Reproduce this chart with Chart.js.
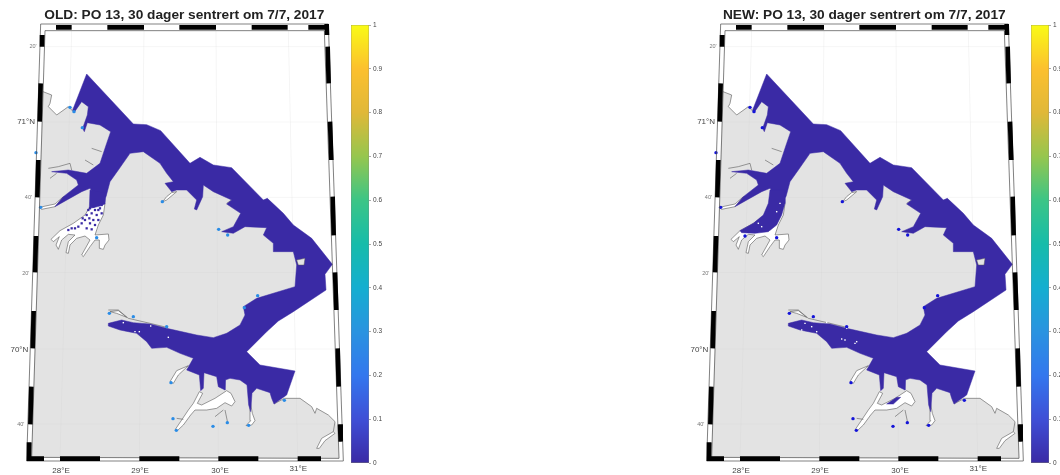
<!DOCTYPE html>
<html><head><meta charset="utf-8">
<script src="https://cdn.jsdelivr.net/npm/chart.js@4"></script>
<style>
html,body{margin:0;padding:0;background:#fff;overflow:hidden;width:1060px;height:475px}
canvas{position:absolute;top:0;filter:blur(0.45px)}
#mapOld{left:0}#barOld{left:351px}#mapNew{left:680px}#barNew{left:1031px}
</style></head><body>
<canvas id="mapOld" width="530" height="475"></canvas>
<canvas id="barOld" width="44" height="475"></canvas>
<canvas id="mapNew" width="530" height="475"></canvas>
<canvas id="barNew" width="44" height="475"></canvas>
<script>
// Map plane units
const titleOld = "OLD: PO 13, 30 dager sentrert om 7/7, 2017";
const titleNew = "NEW: PO 13, 30 dager sentrert om 7/7, 2017";
const colorbarTicks = [0,0.1,0.2,0.3,0.4,0.5,0.6,0.7,0.8,0.9,1];
const colorbarStops = [[0,"#3a2aa5"],[0.1,"#3f4fd6"],[0.2,"#3377ee"],[0.3,"#2a93e0"],[0.4,"#14aed0"],[0.5,"#16bcaa"],[0.6,"#3cc586"],[0.7,"#96c64e"],[0.8,"#e0b838"],[0.9,"#fcc02e"],[1,"#f9fb15"]];
const latLabels = ["20'","71°N","40'","20'","70°N","40'"];
const latLabelX = [110,105,96,88,85,73];
const latLabelY = [138,366,593,820,1050,1272];
const lonLabels = ["28°E","29°E","30°E","31°E"];
const lonLabelX = [183,420,660,895];
const lonLabelY = [1412,1412,1412,1406];
const outerFrame = [[122,72],[985,72],[1030,1383],[80,1383],[122,72]];
const innerFrame = [[135,92],[973,92],[1017,1375],[95,1372],[135,92]];
const frameBars = [[[168,82],[215,82]],[[322,82],[432,82]],[[538,82],[648,82]],[[755,82],[863,82]],[[925,82],[985,82]],
 [[80,1376],[132,1376]],[[180,1376],[300,1376]],[[418,1376],[538,1376]],[[655,1376],[775,1376]],[[893,1376],[963,1376]],
 [[127,105],[126,140]],[[122,250],[119,365]],[[115,480],[112,592]],[[108,708],[105,817]],[[101,933],[98,1045]],[[94,1160],[91,1273]],[[88,1327],[87,1372]],
 [[980,72],[981,105]],[[983,140],[986,250]],[[990,365],[994,480]],[[998,590],[1001,706]],[[1005,817],[1009,930]],[[1013,1045],[1016,1160]],[[1020,1273],[1022,1325]]];
const gridLines = [[[215,92],[180,1375]],[[432,92],[418,1375]],[[648,92],[655,1375]],[[865,92],[893,1375]],
 [[133,140],[975,140]],[[126,366],[982,366]],[[118,592],[990,592]],[[110,817],[998,817]],[[103,1047],[1006,1047]],[[97,1272],[1013,1272]]];
const land = [[129,275],[155,285],[150,310],[145,320],[170,345],[205,320],[225,325],[250,290],[300,340],[345,400],[420,440],[500,500],[600,530],[700,560],[800,650],[900,730],[960,790],[950,830],[930,850],[800,930],[745,1020],[735,1055],[760,1100],[850,1170],[822,1212],[853,1195],[900,1195],[935,1220],[945,1240],[950,1225],[985,1245],[1005,1265],[1012,1285],[1017,1375],[95,1372]];
const water = [[260,222],[400,372],[440,374],[482,392],[570,490],[600,472],[640,495],[695,503],[790,600],[802,595],[850,640],[880,675],[935,715],[997,793],[975,823],[978,870],[880,935],[835,963],[800,995],[740,1055],[780,1095],[885,1113],[860,1185],[822,1212],[815,1195],[810,1178],[770,1165],[756,1180],[752,1235],[746,1215],[741,1155],[720,1140],[690,1135],[676,1140],[675,1170],[655,1160],[650,1130],[612,1118],[610,1165],[602,1172],[598,1125],[560,1110],[580,1075],[540,1060],[500,1042],[455,1045],[440,1025],[410,1000],[385,995],[360,990],[325,978],[325,970],[365,960],[400,968],[450,972],[500,985],[590,1005],[640,1013],[680,1000],[720,975],[735,945],[730,920],[770,895],[885,860],[890,795],[880,755],[820,755],[820,730],[790,705],[800,683],[735,680],[700,700],[665,695],[700,680],[722,640],[680,612],[695,600],[640,575],[610,555],[608,590],[590,630],[583,627],[590,600],[560,570],[530,570],[515,575],[495,550],[520,545],[500,520],[480,490],[430,455],[390,460],[355,510],[330,545],[318,590],[305,600],[285,590],[270,565],[245,575],[165,620],[190,590],[235,555],[230,540],[200,520],[155,515],[205,510],[260,520],[300,490],[320,430],[332,395],[300,375],[262,368],[253,395],[248,385],[262,345],[265,320],[245,305],[222,338],[218,330]];
const waterTailOld = [[270,570],[318,580],[315,612],[300,618],[285,622],[268,625]];
const waterTailNew = [[270,570],[315,570],[315,610],[305,645],[290,675],[265,695],[225,700],[185,698],[180,692],[220,670],[250,645],[265,610]];
const waterFjordNew = [[620,1212],[650,1192],[662,1192],[640,1212]];
const whiteInlets = [
 [[270,620],[315,610],[310,645],[295,675],[285,705],[325,702],[327,720],[315,735],[310,748],[298,745],[298,720],[285,720],[270,740],[250,770],[245,765],[270,720],[255,708],[230,715],[210,735],[205,760],[198,758],[205,725],[225,705],[205,703],[185,720],[175,748],[168,735],[178,710],[160,725],[153,718],[180,692],[220,670],[255,645]],
 [[598,1175],[608,1180],[592,1210],[605,1215],[645,1195],[680,1172],[693,1180],[705,1205],[695,1218],[675,1208],[650,1225],[620,1230],[585,1230],[572,1245],[550,1275],[532,1292],[526,1288],[545,1260],[565,1230],[580,1210]],
 [[950,1345],[965,1315],[1000,1295],[1005,1300],[975,1322],[958,1345]],
 [[330,935],[355,932],[380,952],[350,940]],
 [[510,1145],[530,1112],[565,1097],[535,1125],[520,1150]],
 [[750,1200],[757,1240],[765,1262],[755,1275],[738,1277],[752,1262]],
 [[118,622],[165,612],[190,590],[165,620],[125,628]],
 [[530,575],[500,600],[488,605],[500,590],[515,578]]
];
const coastLines = [
 [[129,275],[155,285],[150,310],[145,320],[170,345],[205,320],[220,335]],
 [[145,505],[175,500],[210,490],[215,510]],[[150,535],[170,520]],[[255,480],[280,495]],[[275,445],[305,455]],
 [[325,930],[355,930],[385,955],[450,970],[500,982]],
 [[822,1212],[853,1195],[900,1195],[935,1220],[945,1240],[950,1225],[985,1245],[1005,1265],[1000,1295]],
 [[680,1000],[690,1008]],[[680,610],[695,600]],
 [[675,1230],[683,1268]],[[645,1250],[670,1230]],[[530,1255],[550,1258]]
];
const islandEast = [[890,780],[915,775],[912,795],[895,795]];
const stations = [[210,322],[222,335],[247,383],[108,458],[122,622],[487,605],[656,688],[290,713],[683,705],[773,887],[733,923],[328,940],[400,950],[500,980],[513,1148],[853,1201],[519,1256],[529,1291],[639,1279],[682,1268],[746,1276]];
const stationsExtraNew = [[195,708]];
const speckleOld = [[270,625],[285,630],[300,625],[275,640],[290,645],[305,640],[268,655],[280,660],[295,660],[270,670],[285,675],[255,660],[245,670],[235,680],[260,685],[275,688],[225,685],[215,685],[205,690],[295,630],[280,620],[305,615],[265,630],[260,645],[248,655]];
const holesOld = [[370,968],[405,995],[418,995],[452,978],[505,1012]];
const holesNew = [[485,1017],[495,1020],[525,1030],[530,1025],[395,980],[410,995],[365,990],[440,967],[375,970],[235,670],[245,680],[270,695],[290,635],[300,610],[500,985]];

const BLUE = "#3a2aa5", LAND = "#e3e3e3", COAST = "#5a5a5a";
const pts = a => a.map(p => ({x:p[0], y:p[1]}));
const joinLines = ls => { const o=[]; ls.forEach(l=>{o.push(...pts(l)); o.push({x:NaN,y:NaN});}); return o; };
const poly = (a,fill,line,w) => ({data:pts(a.concat([a[0]])),showLine:true,fill:'shape',backgroundColor:fill,borderColor:line||fill,borderWidth:w===undefined?0.5:w,pointRadius:0,tension:0,clip:false});
const lines = (ls,c,w) => ({data:joinLines(ls),showLine:true,fill:false,borderColor:c,borderWidth:w,pointRadius:0,spanGaps:false,tension:0,clip:false});
const dots = (a,c,r,style) => ({data:pts(a),showLine:false,backgroundColor:c,borderWidth:0,pointRadius:r,pointStyle:style||'circle',clip:false});

const textPlugin = {
 id:'mapText',
 afterDatasetsDraw(chart,args,opts){
  const c=chart.ctx,x=chart.scales.x,y=chart.scales.y; c.save();
  c.textBaseline='middle';
  c.textAlign='center'; c.fillStyle='#222'; c.font='bold 13.7px "Liberation Sans"';
  c.fillText(opts.title,x.getPixelForValue(553),y.getPixelForValue(47));
  c.textAlign='right';
  latLabels.forEach((t,i)=>{
   const big=t.includes('N');
   c.font=(big?'8px':'5.5px')+' "Liberation Sans"'; c.fillStyle=big?'#444':'#777';
   c.fillText(t,x.getPixelForValue(latLabelX[i]),y.getPixelForValue(latLabelY[i]));
  });
  c.textAlign='center'; c.font='8px "Liberation Sans"'; c.fillStyle='#444';
  lonLabels.forEach((t,i)=>c.fillText(t,x.getPixelForValue(lonLabelX[i]),y.getPixelForValue(lonLabelY[i])));
  c.restore();
 }
};

function mapChart(id,title,isNew){
 const sets=[
  lines(gridLines,'rgba(0,0,0,0.05)',0.6),
  poly(land,LAND),
  lines(gridLines,'rgba(0,0,0,0.035)',0.6),
 ];
 whiteInlets.forEach(w=>sets.push(poly(w,'#ffffff',COAST,0.6)));
 sets.push(lines(coastLines,COAST,0.6));
 sets.push(poly(water,BLUE));
 if(isNew){sets.push(poly(waterTailNew,BLUE),poly(waterFjordNew,BLUE));}
 else sets.push(poly(waterTailOld,BLUE),dots(speckleOld,BLUE,1.6,'rect'));
 sets.push(dots(isNew?holesNew:holesOld,'#ffffff',1,'rect'));
 sets.push(poly(islandEast,LAND,COAST,0.5));
 const stationColor=isNew?'#1414d8':'#2a8ce6';
 sets.push(dots(isNew?stations.concat(stationsExtraNew):stations,stationColor,1.7));
 sets.push(lines([outerFrame,innerFrame],'#4a4a4a',0.7));
 sets.push(lines(frameBars,'#000000',4.6));
 sets.forEach((s,i)=>{s.order=sets.length-i;s.label='s'+i;s.borderCapStyle='butt';});
 new Chart(document.getElementById(id),{
  type:'scatter',plugins:[textPlugin],
  data:{datasets:sets},
  options:{responsive:false,animation:false,events:[],
   layout:{padding:0,autoPadding:false},
   scales:{x:{type:'linear',display:false,min:0,max:1590},y:{type:'linear',display:false,reverse:true,min:0,max:1425}},
   plugins:{legend:{display:false},tooltip:{enabled:false},title:{display:false},mapText:{title}}
  }
 });
}
function barChart(id){
 new Chart(document.getElementById(id),{
  type:'bar',
  data:{labels:['colour'],datasets:[{data:[[0,1]],categoryPercentage:1,barPercentage:1,borderWidth:0.6,borderSkipped:false,borderColor:'#777',
   backgroundColor(ctx){const a=ctx.chart.chartArea;if(!a)return BLUE;const g=ctx.chart.ctx.createLinearGradient(0,a.bottom,0,a.top);colorbarStops.forEach(s=>g.addColorStop(s[0],s[1]));return g;}}]},
  options:{responsive:false,animation:false,events:[],
   layout:{padding:{top:25,bottom:12,left:0,right:0},autoPadding:false},
   scales:{x:{display:false},
    y:{position:'right',min:0,max:1,
     afterFit(s){s.width=26;},
     afterBuildTicks(s){s.ticks=colorbarTicks.map(v=>({value:v}));},
     border:{display:false},
     grid:{drawOnChartArea:false,tickLength:2,color:'#555',lineWidth:0.5},
     ticks:{autoSkip:false,padding:2,color:'#444',font:{family:'"Liberation Sans"',size:6.5},callback:v=>String(v)}}},
   plugins:{legend:{display:false},tooltip:{enabled:false}}
  }
 });
}
mapChart('mapOld',titleOld,false);
mapChart('mapNew',titleNew,true);
barChart('barOld');
barChart('barNew');
</script></body></html>
